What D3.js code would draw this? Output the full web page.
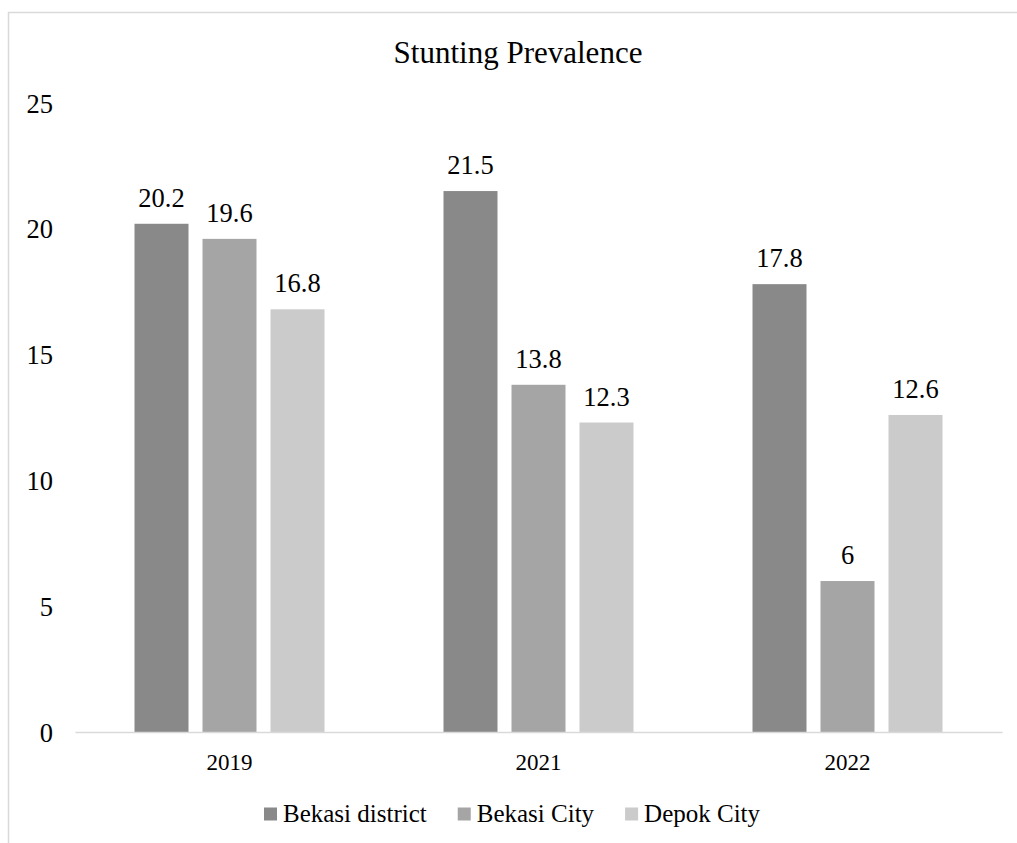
<!DOCTYPE html>
<html>
<head>
<meta charset="utf-8">
<script src="https://cdn.jsdelivr.net/npm/d3@7"></script>
<style>
  html, body { margin: 0; padding: 0; background: #fff; }
  svg { display: block; }
  text { font-family: "Liberation Serif", "Times New Roman", serif; fill: #000; }
</style>
</head>
<body>
<svg id="chart" width="1017" height="843"></svg>
<script>
const title = "Stunting Prevalence";
const years = ["2019", "2021", "2022"];
const seriesNames = ["Bekasi district", "Bekasi City", "Depok City"];
const bekasiDistrict = [20.2, 21.5, 17.8];
const bekasiCity = [19.6, 13.8, 6];
const depokCity = [16.8, 12.3, 12.6];
const yTicks = [0, 5, 10, 15, 20, 25];
const colors = ["#898989", "#a5a5a5", "#cbcbcb"];

const seriesValues = [bekasiDistrict, bekasiCity, depokCity];

const svg = d3.select("#chart");

// outer chart border (cut off on right/bottom like the reference)
svg.append("rect")
  .attr("x", 8.5).attr("y", 12.5)
  .attr("width", 1030).attr("height", 860)
  .attr("fill", "none").attr("stroke", "#d9d9d9").attr("stroke-width", 1.5);

const plotLeft = 75, plotRight = 1002, plotTop = 103, plotBottom = 732;

const x = d3.scaleBand().domain(years).range([plotLeft, plotRight]).paddingInner(0).paddingOuter(0);
const barW = 54, barGap = 14;
const xs = d3.scaleBand().domain(seriesNames)
  .range([0, 3 * barW + 2 * barGap]).paddingInner(barGap / (barW + barGap)).paddingOuter(0);
const groupW = 3 * barW + 2 * barGap;

const y = d3.scaleLinear().domain([0, 25]).range([plotBottom, plotTop]);

// title
svg.append("text")
  .attr("x", 518).attr("y", 63)
  .attr("text-anchor", "middle")
  .style("font-size", "31px")
  .text(title);

// y axis labels
const yAxis = d3.axisLeft(y).tickValues(yTicks).tickSize(0).tickPadding(0).tickFormat(d3.format("d"));
const yg = svg.append("g").attr("transform", `translate(53,0)`).call(yAxis);
yg.select(".domain").remove();
yg.selectAll("text")
  .style("font-family", '"Liberation Serif", "Times New Roman", serif')
  .style("font-size", "26.5px").attr("fill", "#000")
  .attr("x", 0).attr("dy", "0.34em");

// bars
const groups = svg.append("g").selectAll("g")
  .data(years).join("g")
  .attr("transform", d => `translate(${x(d) + x.bandwidth() / 2 - groupW / 2},0)`);

groups.each(function (yr, i) {
  const g = d3.select(this);
  seriesNames.forEach((s, j) => {
    const v = seriesValues[j][i];
    g.append("rect")
      .attr("x", xs(s)).attr("y", y(v))
      .attr("width", xs.bandwidth()).attr("height", y(0) - y(v))
      .attr("fill", colors[j]);
    g.append("text")
      .attr("x", xs(s) + xs.bandwidth() / 2)
      .attr("y", y(v) - 17)
      .attr("text-anchor", "middle")
      .style("font-size", "26.5px")
      .text(v);
  });
});

// x axis
const xAxis = d3.axisBottom(x).tickSize(0).tickPadding(0);
const xg = svg.append("g").attr("transform", `translate(0,${plotBottom})`).call(xAxis);
xg.select(".domain").attr("stroke", "#d9d9d9").attr("stroke-width", 1.5);
xg.selectAll("text")
  .style("font-family", '"Liberation Serif", "Times New Roman", serif')
  .style("font-size", "23px").attr("fill", "#000")
  .attr("y", 37.5).attr("dy", 0);

// legend
const legend = svg.append("g");
let lx = 264;
seriesNames.forEach((s, j) => {
  legend.append("rect")
    .attr("x", lx).attr("y", 807.5).attr("width", 13).attr("height", 13)
    .attr("fill", colors[j]);
  const t = legend.append("text")
    .attr("x", lx + 19).attr("y", 821.5)
    .style("font-size", "25px")
    .text(s);
  lx += 19 + t.node().getComputedTextLength() + 31;
});
</script>
</body>
</html>
